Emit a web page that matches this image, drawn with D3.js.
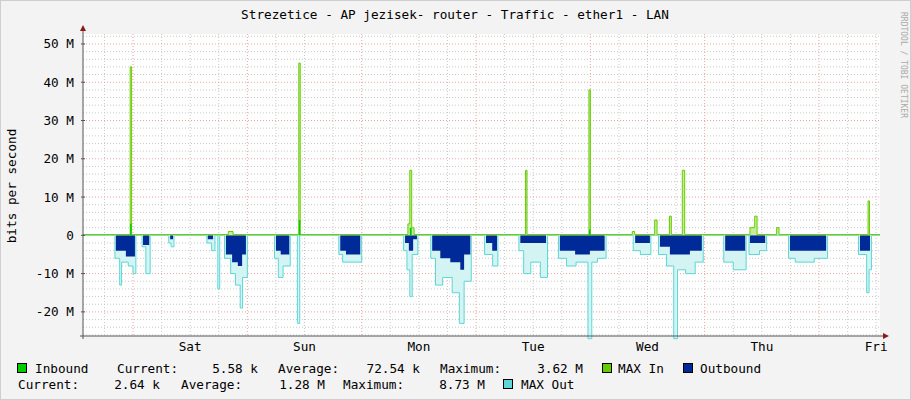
<!DOCTYPE html>
<html><head><meta charset="utf-8">
<script src="https://cdn.jsdelivr.net/npm/d3@7"></script>
<style>
body{margin:0;background:#f3f3f3}
text{font-family:"DejaVu Sans Mono",monospace;fill:#000}
</style></head><body>
<svg id="c" width="911" height="400"></svg>
<script>
// hours from Sat 00:00, values in Mbit/s; step samples (value holds until next sample)
const dayLabels = ["Sat","Sun","Mon","Tue","Wed","Thu","Fri"]
const yTicks = [-20,-10,0,10,20,30,40,50]

const outAvg = [[-10.5,0],[-3.6,-4],[-1.5,-5.5],[0.4,0],[2.1,-2.5],[3.4,0],[7.8,-1],[8.4,0],[15.7,-1],[16.8,0],
 [19.5,-5],[20.8,-7],[22,-8],[22.9,-5],[23.7,0],[30,-4],[31,-5],[32.8,0],[43.5,-4],[44.7,-5],[47.7,0],
 [57.1,-2],[57.9,-4],[58.8,-1],[59.6,0],[62.8,-4],[64.5,-6],[66.6,-7],[68.7,-9],[69.5,-5],[70.8,0],
 [74.1,-2],[75.4,-4],[76.4,0],[81.3,-2],[86.7,0],[89.6,-4],[92.8,-5],[95.9,-4],[99,0],[105.4,-2],[108.5,0],
 [110.6,-3],[112.7,-5],[116.9,-4],[119.4,0],[124.3,-4],[128.5,0],[129.5,-2],[132.7,0],[137.9,-4],[145.5,0],
 [152.6,-4],[154.7,0],[156.8,0]]

const maxOut = [[-10.5,0],[-3.8,-6],[-2.8,-13],[-2.4,-7],[-1,-8],[0,-10],[0.6,0],[1.9,-3],[2.7,-10],[3.6,0],
 [7.5,-2],[8,-3],[8.6,0],[15.5,-2],[16.5,-4],[17.2,0],[17.8,-14],[18.2,0],[19.2,-6],[20.5,-10],[21.5,-13],
 [22.5,-19],[23,-11],[24,0],[29.7,-6],[30.5,-11],[31.5,-8],[33,0],[34.5,-23],[35,0],[43.2,-5],[44,-7],[48,0],
 [56.8,-4],[57.5,-9],[58.1,-16],[58.6,-5],[59.8,0],[62.5,-6],[63.5,-13],[65,-11],[67,-15],[68.5,-23],[69.5,-12],
 [71,0],[73.8,-5],[75.5,-8],[76.6,0],[81,-4],[82,-10],[83.5,-7],[85.5,-11],[87,0],[89.3,-6],[91,-8],[93,-7],
 [95.5,-27],[96.3,-7],[97.5,-6],[99.3,0],[105,-4],[106.5,-5],[108.7,0],[110.3,-5],[112,-8],[113.5,-27],
 [114.3,-9],[116,-10],[118,-7],[119.7,0],[124,-7],[126,-9],[128.7,0],[129.3,-5],[131.5,-4],[133,0],
 [137.6,-6],[139,-7],[143,-6],[145.8,0],[152.3,-5],[154,-15],[154.5,-9],[155,0],[156.8,0]]

const maxIn = [[-10.5,0.2],[-0.6,44],[-0.3,0.2],[20,1],[21,0.2],[34.8,45],[35.1,0.2],[57.7,3],[58.1,17],
 [58.5,2],[59,0.2],[82.4,17],[82.7,0.2],[95.7,38],[96,0.2],[104.8,1],[105.3,0.2],[109.5,4],[110,0.2],
 [112.6,5],[113,0.2],[115.3,17],[115.8,0.2],[129.5,2],[130.5,5],[131,0.2],[135.1,2],[135.6,0.2],
 [154.3,9],[154.6,0.2],[156.8,0.2]]

const inAvg = [[-10.5,0.05],[-0.6,3],[-0.3,0.05],[34.8,4],[35.1,0.05],[58.1,2],[58.5,0.05],[95.7,1.5],
 [96,0.05],[156.8,0.05]]

const svg = d3.select("#c")
const L = 83, R = 880, T = 34, B = 336
const x = d3.scaleLinear().domain([-10.5,156.8]).range([L,R])
const y = d3.scaleLinear().domain([-26.3,52.6]).range([B,T])

svg.append("rect").attr("width",911).attr("height",400).attr("fill","#f3f3f3")
  .attr("stroke","#cfcfcf").attr("stroke-width",2)
svg.append("rect").attr("x",L).attr("y",T).attr("width",R-L).attr("height",B-T).attr("fill","#fff")

// grid
const g = svg.append("g")
d3.range(-26,53,2).forEach(v=>{ if(v%10) g.append("line").attr("x1",L).attr("x2",R).attr("y1",y(v)).attr("y2",y(v))
  .attr("stroke","#c8c8c8").attr("stroke-dasharray","1,2") })
d3.range(-6,157,6).forEach(h=>{ if(h%24) g.append("line").attr("x1",x(h)).attr("x2",x(h)).attr("y1",T).attr("y2",B)
  .attr("stroke","#c8c8c8").attr("stroke-dasharray","1,2") })
yTicks.forEach(v=>g.append("line").attr("x1",L).attr("x2",R).attr("y1",y(v)).attr("y2",y(v))
  .attr("stroke","#f0a0a0").attr("stroke-dasharray","1,2"))
d3.range(0,157,24).forEach(h=>g.append("line").attr("x1",x(h)).attr("x2",x(h)).attr("y1",T).attr("y2",B)
  .attr("stroke","#f0a0a0").attr("stroke-dasharray","1,2"))

const area = d3.area().x(d=>x(d[0])).y0(y(0)).y1(d=>y(d[1])).curve(d3.curveStepAfter)
const line = d3.line().x(d=>x(d[0])).y(d=>y(d[1])).curve(d3.curveStepAfter)

svg.append("path").datum(maxOut).attr("d",area).attr("fill","#d4f4f4")
svg.append("path").datum(maxOut).attr("d",line).attr("fill","none").attr("stroke","#5cd6d6").attr("stroke-width",1)
svg.append("path").datum(outAvg).attr("d",area).attr("fill","#002a97")
svg.append("path").datum(maxIn).attr("d",area).attr("fill","#c6ee9a")
svg.append("path").datum(maxIn).attr("d",line).attr("fill","none").attr("stroke","#66cc00").attr("stroke-width",1)
svg.append("path").datum(inAvg).attr("d",area).attr("fill","#00cc00")

// axes
svg.append("line").attr("x1",L).attr("x2",L).attr("y1",T-4).attr("y2",B+3).attr("stroke","#555")
svg.append("line").attr("x1",L-3).attr("x2",R+4).attr("y1",B).attr("y2",B).attr("stroke","#555")
svg.append("path").attr("d",`M${L-3},${T-3}L${L+3},${T-3}L${L},${T-9}Z`).attr("fill","#8b1a1a")
svg.append("path").attr("d",`M${R+3},${B-3}L${R+3},${B+3}L${R+9},${B}Z`).attr("fill","#8b1a1a")
yTicks.forEach(v=>{
  svg.append("line").attr("x1",L-2).attr("x2",L+2).attr("y1",y(v)).attr("y2",y(v)).attr("stroke","#555")
  svg.append("text").attr("x",74).attr("y",y(v)+4.5).attr("text-anchor","end").attr("font-size",12.7)
    .text(v===0?"0":v+" M")
})
dayLabels.forEach((d,i)=>svg.append("text").attr("x",x(12+24*i)).attr("y",351).attr("text-anchor","middle")
  .attr("font-size",12.7).text(d))

svg.append("text").attr("x",455).attr("y",19).attr("text-anchor","middle").attr("font-size",12.7)
  .text("Strezetice - AP jezisek- router - Traffic - ether1 - LAN")
svg.append("text").attr("transform","translate(16,186) rotate(-90)").attr("text-anchor","middle")
  .attr("font-size",12.7).text("bits per second")
svg.append("text").attr("transform","translate(901,12) rotate(90)").attr("font-size",8)
  .style("fill","#aaa").text("RRDTOOL / TOBI OETIKER")

// legend
const sw = (x0,yb,c)=>svg.append("rect").attr("x",x0+0.5).attr("y",yb-9.5).attr("width",9).attr("height",9)
  .attr("fill",c).attr("stroke","#000").attr("stroke-width",1)
const tx = (x0,yb,s,a)=>svg.append("text").attr("x",x0).attr("y",yb).attr("font-size",12.7)
  .attr("text-anchor",a||"start").text(s)
const r1 = 373, r2 = 389
sw(17,r1,"#00cc00"); tx(35,r1,"Inbound"); tx(117,r1,"Current:"); tx(258,r1,"5.58 k","end")
tx(278,r1,"Average:"); tx(420,r1,"72.54 k","end"); tx(440,r1,"Maximum:"); tx(583,r1,"3.62 M","end")
sw(602,r1,"#66cc00"); tx(618,r1,"MAX In"); sw(683,r1,"#002a97"); tx(700,r1,"Outbound")
tx(18,r2,"Current:"); tx(160,r2,"2.64 k","end"); tx(181,r2,"Average:"); tx(325,r2,"1.28 M","end")
tx(343,r2,"Maximum:"); tx(485,r2,"8.73 M","end"); sw(503,r2,"#5cd6d6"); tx(521,r2,"MAX Out")
</script></body></html>
